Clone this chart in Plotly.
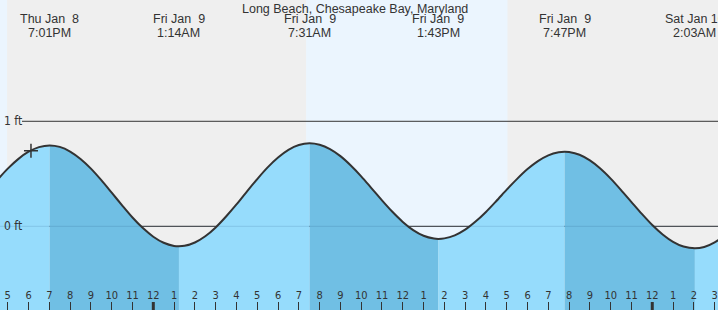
import plotly.graph_objects as go
from datetime import datetime

station = "Long Beach, Chesapeake Bay, Maryland"

# Tide heights (ft), every half hour plus the high/low points
tide_times = [
    "2026-01-08 16:30", "2026-01-08 17:00", "2026-01-08 17:30", "2026-01-08 18:00",
    "2026-01-08 18:30", "2026-01-08 19:01", "2026-01-08 19:30", "2026-01-08 20:00",
    "2026-01-08 20:30", "2026-01-08 21:00", "2026-01-08 21:30", "2026-01-08 22:00",
    "2026-01-08 22:30", "2026-01-08 23:00", "2026-01-08 23:30", "2026-01-09 00:00",
    "2026-01-09 00:30", "2026-01-09 01:00", "2026-01-09 01:14", "2026-01-09 01:30",
    "2026-01-09 02:00", "2026-01-09 02:30", "2026-01-09 03:00", "2026-01-09 03:30",
    "2026-01-09 04:00", "2026-01-09 04:30", "2026-01-09 05:00", "2026-01-09 05:30",
    "2026-01-09 06:00", "2026-01-09 06:30", "2026-01-09 07:00", "2026-01-09 07:31",
    "2026-01-09 08:00", "2026-01-09 08:30", "2026-01-09 09:00", "2026-01-09 09:30",
    "2026-01-09 10:00", "2026-01-09 10:30", "2026-01-09 11:00", "2026-01-09 11:30",
    "2026-01-09 12:00", "2026-01-09 12:30", "2026-01-09 13:00", "2026-01-09 13:30",
    "2026-01-09 13:43", "2026-01-09 14:00", "2026-01-09 14:30", "2026-01-09 15:00",
    "2026-01-09 15:30", "2026-01-09 16:00", "2026-01-09 16:30", "2026-01-09 17:00",
    "2026-01-09 17:30", "2026-01-09 18:00", "2026-01-09 18:30", "2026-01-09 19:00",
    "2026-01-09 19:30", "2026-01-09 19:47", "2026-01-09 20:00", "2026-01-09 20:30",
    "2026-01-09 21:00", "2026-01-09 21:30", "2026-01-09 22:00", "2026-01-09 22:30",
    "2026-01-09 23:00", "2026-01-09 23:30", "2026-01-10 00:00", "2026-01-10 00:30",
    "2026-01-10 01:00", "2026-01-10 01:30", "2026-01-10 02:03", "2026-01-10 02:30",
    "2026-01-10 03:00", "2026-01-10 03:30",
]
tide_heights = [
    0.442, 0.549, 0.640, 0.710,
    0.754, 0.770, 0.756, 0.712,
    0.641, 0.549, 0.439, 0.320,
    0.200, 0.084, -0.017, -0.099,
    -0.157, -0.187, -0.190, -0.186,
    -0.154, -0.095, -0.011, 0.093,
    0.208, 0.331, 0.450, 0.561,
    0.655, 0.728, 0.774, 0.790,
    0.776, 0.735, 0.668, 0.579,
    0.476, 0.362, 0.247, 0.138,
    0.042, -0.036, -0.090, -0.117,
    -0.120, -0.115, -0.086, -0.032,
    0.045, 0.137, 0.241, 0.349,
    0.452, 0.545, 0.621, 0.676,
    0.705, 0.710, 0.707, 0.681,
    0.627, 0.550, 0.454, 0.345,
    0.231, 0.118, 0.012, -0.078,
    -0.148, -0.193, -0.210, -0.197,
    -0.153, -0.082,
]

# High / low tide events
event_times = ["2026-01-08 19:01", "2026-01-09 01:14", "2026-01-09 07:31",
               "2026-01-09 13:43", "2026-01-09 19:47", "2026-01-10 02:03"]
event_kinds = ["H", "L", "H", "L", "H", "L"]

# Daylight periods (sunrise -> sunset)
day_starts = ["2026-01-08 16:00", "2026-01-09 07:21"]
day_ends = ["2026-01-08 16:58", "2026-01-09 17:02"]

midnights = ["2026-01-09 00:00", "2026-01-10 00:00"]

now_time = ["2026-01-08 18:07"]
now_height = [0.72]

level_values = [1, 0]
level_labels = ["1 ft", "0 ft"]

x_range = ["2026-01-08 16:37:36", "2026-01-10 03:09:42"]
y_range = [-0.797, 2.155]

# ---- styles ----
NIGHT = "#efefef"
DAY = "#ebf5fe"
RISE = "#96dcfc"
FALL = "#70bfe4"
INK = "#333333"
TEXT_FONT = "Liberation Sans, Arial, sans-serif"
TICK_FONT = "DejaVu Sans Condensed, DejaVu Sans, sans-serif"

fig = go.Figure()

def parse(s):
    return datetime.strptime(s, "%Y-%m-%d %H:%M")

tt = [parse(s) for s in tide_times]
ev = [parse(s) for s in event_times]

# segment boundaries and fill colors
bounds = [tt[0]] + ev + [tt[-1]]
kinds = ["L"] + event_kinds  # kind at start of each segment
for i in range(len(bounds) - 1):
    a, b = bounds[i], bounds[i + 1]
    xs = [t for t in tt if a <= t <= b]
    ys = [h for t, h in zip(tt, tide_heights) if a <= t <= b]
    color = FALL if kinds[i] == "H" else RISE
    fig.add_trace(go.Scatter(x=xs, y=[y_range[0]] * len(xs), mode="lines",
                             line=dict(width=0), hoverinfo="skip", showlegend=False))
    fig.add_trace(go.Scatter(x=xs, y=ys, mode="lines", fill="tonexty",
                             fillcolor=color, line=dict(width=0, shape="spline", smoothing=0.8),
                             hoverinfo="skip", showlegend=False))

# faint level line over water
fig.add_trace(go.Scatter(x=[tt[0], tt[-1]], y=[0, 0], mode="lines",
                         line=dict(color="rgba(0,50,90,0.13)", width=1),
                         hoverinfo="skip", showlegend=False))

# tide curve
fig.add_trace(go.Scatter(x=tt, y=tide_heights, mode="lines",
                         line=dict(color=INK, width=2, shape="spline", smoothing=0.8),
                         hoverinfo="skip", showlegend=False))

# current time marker
fig.add_trace(go.Scatter(x=now_time, y=now_height, mode="markers",
                         marker=dict(symbol="cross-thin", size=10,
                                     line=dict(color=INK, width=1.5)),
                         hoverinfo="skip", showlegend=False))

shapes = []
for s, e in zip(day_starts, day_ends):
    shapes.append(dict(type="rect", xref="x", yref="paper", x0=s, x1=e, y0=0, y1=1,
                       fillcolor=DAY, line=dict(width=0), layer="below"))
for v in level_values:
    shapes.append(dict(type="line", xref="paper", yref="y", x0=22 / 718, x1=1, y0=v, y1=v,
                       line=dict(color=INK, width=1), layer="below"))
for m in midnights:
    shapes.append(dict(type="line", xref="x", yref="paper", x0=m, x1=m, y0=0, y1=8 / 310,
                       line=dict(color=INK, width=3), layer="above"))

annotations = [dict(text=station, xref="paper", yref="paper", x=355 / 718, y=1 - 8.5 / 310,
                    xanchor="center", yanchor="middle", showarrow=False,
                    font=dict(family=TEXT_FONT, size=12.5, color=INK))]
for t in ev:
    date_txt = f"{t:%a %b} {t.day:>2}".replace("  ", " \u00a0")
    time_txt = t.strftime("%-I:%M%p")
    annotations.append(dict(text=date_txt, xref="x", yref="paper", x=t, y=1 - 19.5 / 310,
                            xanchor="center", yanchor="middle", showarrow=False,
                            font=dict(family=TEXT_FONT, size=12.5, color=INK)))
    annotations.append(dict(text=time_txt, xref="x", yref="paper", x=t, y=1 - 32.5 / 310,
                            xanchor="center", yanchor="middle", showarrow=False,
                            font=dict(family=TEXT_FONT, size=12.5, color=INK)))
for v, lab in zip(level_values, level_labels):
    annotations.append(dict(text=lab, xref="paper", yref="y", x=0, y=v, xshift=2,
                            xanchor="left", yanchor="middle", showarrow=False,
                            font=dict(family=TICK_FONT, size=12, color=INK)))

fig.update_layout(
    width=718, height=310, margin=dict(l=0, r=0, t=0, b=0),
    paper_bgcolor=NIGHT, plot_bgcolor=NIGHT,
    shapes=shapes, annotations=annotations, showlegend=False,
    xaxis=dict(type="date", range=x_range, tickformat="%-I", dtick=3600000,
               tick0="2026-01-08 00:00", ticks="inside", ticklen=8, tickwidth=1,
               tickcolor=INK, ticklabelposition="inside",
               tickfont=dict(family=TICK_FONT, size=11, color=INK),
               showgrid=False, zeroline=False, showline=False, fixedrange=True),
    yaxis=dict(range=y_range, visible=False, showgrid=False, zeroline=False, fixedrange=True),
)

fig.write_html("out.html")
